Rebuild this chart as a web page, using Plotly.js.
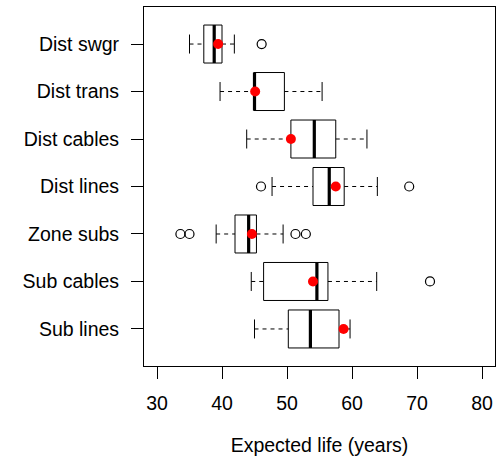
<!DOCTYPE html>
<html>
<head>
<meta charset="utf-8">
<script src="https://cdn.plot.ly/plotly-3.0.1.min.js"></script>
<style>
  html, body { margin: 0; padding: 0; background: #fff; }
  #chart { width: 498px; height: 459px; }
</style>
</head>
<body>
<div id="chart"></div>
<script>
// Asset classes, bottom to top on the y axis
const categories = ["Sub lines", "Sub cables", "Zone subs", "Dist lines", "Dist cables", "Dist trans", "Dist swgr"];

// Five-number summaries (years)
const lowerWhisker = [45.0, 44.5, 39.1, 47.7, 43.8, 39.7, 35.0];
const q1           = [50.2, 46.4, 42.0, 54.0, 50.6, 44.9, 37.2];
const medians      = [53.6, 54.6, 44.1, 56.5, 54.2, 45.0, 38.8];
const q3           = [58.0, 56.3, 45.3, 58.8, 57.5, 49.6, 40.0];
const upperWhisker = [59.7, 63.8, 49.4, 63.9, 62.3, 55.4, 41.9];

// Mean expected life per class (red dots)
const means        = [58.7, 54.0, 44.6, 57.5, 50.6, 45.1, 39.4];

// Outlying observations, listed with the class they belong to
const outlierValues   = [72.0, 33.6, 35.0, 51.3, 52.9, 46.0, 68.8, 46.1];
const outlierCategory = ["Sub cables", "Zone subs", "Zone subs", "Zone subs", "Zone subs", "Dist lines", "Dist lines", "Dist swgr"];

const tickValues = [30, 40, 50, 60, 70, 80];

// Build the R-style box plot pieces from the summaries
const halfBox = 0.4;     // box half-height in category units
const halfStaple = 0.2;  // whisker end cap half-length

const boxX = [], boxY = [];
const medX = [], medY = [];
const whiskX = [], whiskY = [];
const stapleX = [], stapleY = [];
categories.forEach((c, i) => {
  const p = i + 1;
  boxX.push(q1[i], q3[i], q3[i], q1[i], q1[i], null);
  boxY.push(p - halfBox, p - halfBox, p + halfBox, p + halfBox, p - halfBox, null);
  medX.push(medians[i], medians[i], null);
  medY.push(p - halfBox, p + halfBox, null);
  whiskX.push(lowerWhisker[i], q1[i], null, q3[i], upperWhisker[i], null);
  whiskY.push(p, p, null, p, p, null);
  stapleX.push(lowerWhisker[i], lowerWhisker[i], null, upperWhisker[i], upperWhisker[i], null);
  stapleY.push(p - halfStaple, p + halfStaple, null, p - halfStaple, p + halfStaple, null);
});
const catPos = categories.map((c, i) => i + 1);
const outlierPos = outlierCategory.map(c => categories.indexOf(c) + 1);

const traces = [
  { x: whiskX, y: whiskY, mode: "lines", line: { color: "#000", width: 1, dash: "4px,4px" }, hoverinfo: "skip" },
  { x: stapleX, y: stapleY, mode: "lines", line: { color: "#000", width: 1 }, hoverinfo: "skip" },
  { x: boxX, y: boxY, mode: "lines", line: { color: "#000", width: 1 }, hoverinfo: "skip" },
  { x: medX, y: medY, mode: "lines", line: { color: "#000", width: 3.2 }, hoverinfo: "skip" },
  { x: outlierValues, y: outlierPos, mode: "markers",
    marker: { symbol: "circle-open", size: 9, color: "#000", line: { width: 1.2, color: "#000" } } },
  { x: means, y: catPos, mode: "markers",
    marker: { symbol: "circle", size: 10, color: "#ff0000" } }
];

const baseFont = { family: "Liberation Sans, Arial, sans-serif", size: 19.5, color: "#000" };

const layout = {
  width: 498,
  height: 459,
  margin: { l: 144, r: 3, t: 7, b: 93 },
  paper_bgcolor: "#fff",
  plot_bgcolor: "#fff",
  showlegend: false,
  font: baseFont,
  xaxis: {
    range: [28, 82],
    tickvals: tickValues,
    ticktext: tickValues.map(String),
    ticks: "outside",
    ticklen: 12,
    tickwidth: 1,
    tickcolor: "#000",
    ticklabelstandoff: 8,
    showline: true,
    mirror: true,
    linecolor: "#000",
    linewidth: 1,
    showgrid: false,
    zeroline: false,
    tickfont: baseFont,
    title: { text: "Expected life (years)", font: baseFont, standoff: 24 }
  },
  yaxis: {
    range: [0.22, 7.78],
    tickvals: catPos,
    ticktext: categories,
    ticks: "outside",
    ticklen: 12,
    tickwidth: 1,
    tickcolor: "#000",
    ticklabelstandoff: 8,
    showline: true,
    mirror: true,
    linecolor: "#000",
    linewidth: 1,
    showgrid: false,
    zeroline: false,
    tickfont: baseFont
  }
};

Plotly.newPlot("chart", traces, layout, { displayModeBar: false, staticPlot: true });
</script>
</body>
</html>
